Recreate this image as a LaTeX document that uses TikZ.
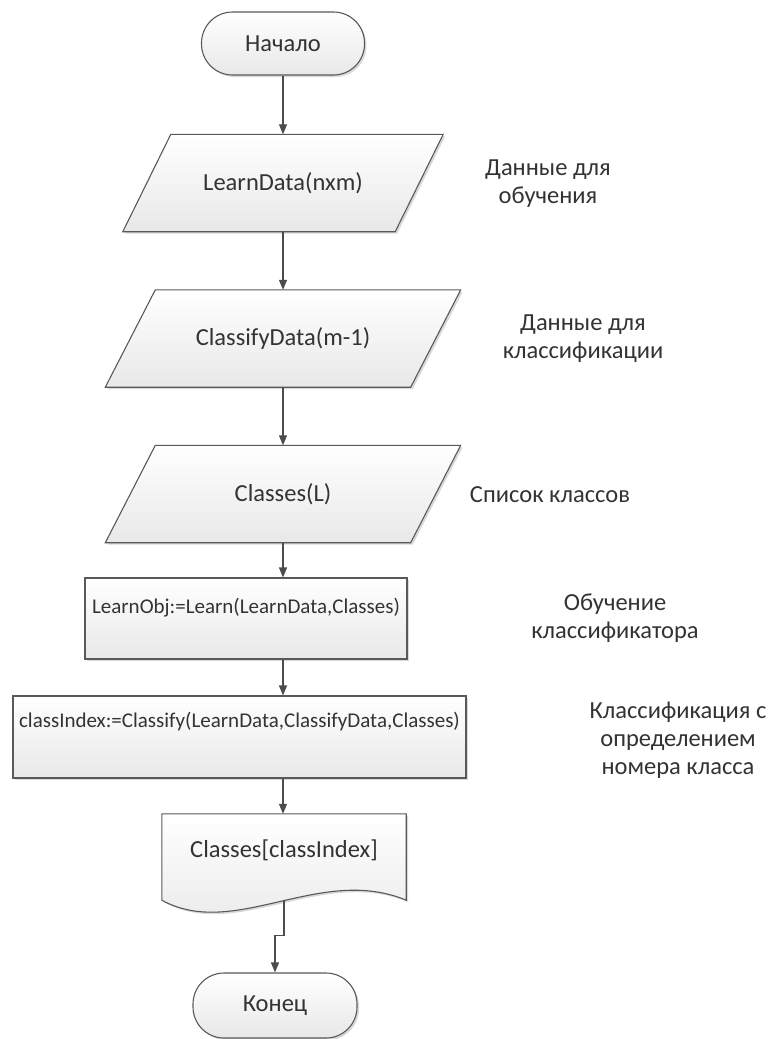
\documentclass[tikz,border=0pt]{standalone}
\usepackage{fontspec}
\setmainfont{Carlito}
\usetikzlibrary{calc, arrows.meta, shadows, backgrounds}

\begin{document}
\begin{tikzpicture}[x=1pt, y=-1pt,
    font=\fontsize{24.5}{28}\selectfont, text=black!80,
    every node/.style={inner sep=0pt},
    blockfill/.style={draw=black!65, line width=1.1pt, top color=white, bottom color=black!9,
        drop shadow={shadow xshift=2pt, shadow yshift=-2pt, opacity=.3}},
    terminal/.style={blockfill, rectangle, rounded corners=31pt, minimum height=63pt},
    iodata/.style={rectangle, minimum height=97pt},
    process/.style={blockfill, rectangle, text height=15pt, font=\fontsize{21}{25}\selectfont},
    note/.style={align=center},
    arr/.style={draw=black!70, line width=1.1pt, -{Triangle[length=10pt, width=8pt]}}
]
\useasboundingbox (0,0) rectangle (773,1039);

\node[terminal, minimum width=163pt] (begin) at (283,43.5) {Начало};

\node[iodata, minimum width=320pt] (learndata) at (283,183) {LearnData(nxm)};
\node[note] (learnnote) at (548,184) {Данные для\\обучения};

\node[iodata, minimum width=355pt] (classdata) at (283,338.5) {ClassifyData(m-1)};
\node[note] (classnote) at (583,339) {Данные для\\классификации};

\node[iodata, minimum width=355pt] (classes) at (283,494) {Classes(L)};
\node[note] (listnote) at (550,495) {Список классов};

% parallelograms behind the input nodes
\begin{scope}[on background layer]
  \path[blockfill] ($(learndata.north west)+(48,0)$) -- (learndata.north east)
    -- ($(learndata.south east)+(-48,0)$) -- (learndata.south west) -- cycle;
  \path[blockfill] ($(classdata.north west)+(50,0)$) -- (classdata.north east)
    -- ($(classdata.south east)+(-50,0)$) -- (classdata.south west) -- cycle;
  \path[blockfill] ($(classes.north west)+(50,0)$) -- (classes.north east)
    -- ($(classes.south east)+(-50,0)$) -- (classes.south west) -- cycle;
\end{scope}

\node[process, minimum width=322pt, minimum height=81pt, text depth=26pt] (learn) at (246,618.5) {LearnObj:=Learn(LearnData,Classes)};
\node[note] (learnobjnote) at (615,618) {Обучение\\классификатора};

\node[process, minimum width=453pt, minimum height=82pt, text depth=35pt] (classify) at (239.5,737) {classIndex:=Classify(LearnData,ClassifyData,Classes)};
\node[note] (classifynote) at (678,740) {Классификация с\\определением\\номера класса};

% document block
\node[minimum width=244pt, minimum height=86pt, text height=15pt, text depth=15pt] (out) at (284,857) {Classes[classIndex]};
\begin{scope}[on background layer]
  \path[blockfill] (out.north west) -- (out.north east) -- (out.south east)
    .. controls +(-86,-36) and +(73,40) .. (out.south west) -- cycle;
\end{scope}

\node[terminal, minimum width=164pt, minimum height=65pt] (finish) at (275,1005.5) {Конец};

\draw[arr] (begin.south) -- (learndata.north);
\draw[arr] (learndata.south) -- (classdata.north);
\draw[arr] (classdata.south) -- (classes.north);
\draw[arr] (classes.south) -- (classes.south |- learn.north);
\draw[arr] (classes.south |- learn.south) -- (classes.south |- classify.north);
\draw[arr] (classes.south |- classify.south) -- (classes.south |- out.north);
\draw[arr] (out.south) -- ++(0,35) -| (finish.north);

\end{tikzpicture}
\end{document}
